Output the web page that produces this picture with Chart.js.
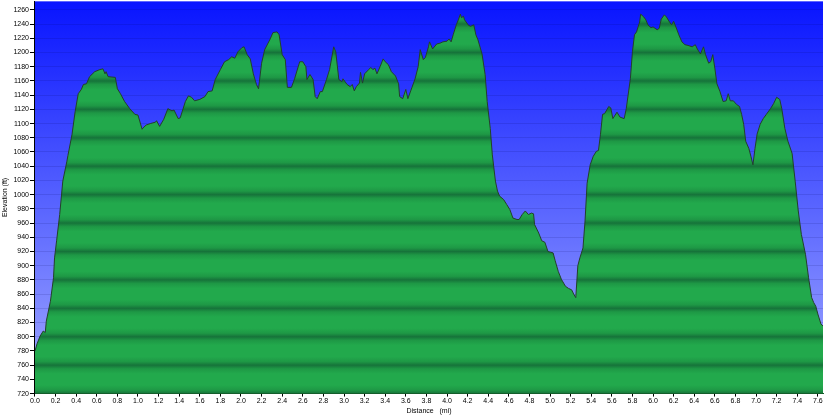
<!DOCTYPE html>
<html>
<head>
<meta charset="utf-8">
<script src="https://cdn.jsdelivr.net/npm/chart.js@4/dist/chart.umd.min.js"></script>
<style>
  html, body { margin: 0; padding: 0; background: #fff; }
  #wrap { width: 825px; height: 415px; }
</style>
</head>
<body>
<div id="wrap"><canvas id="profile"></canvas></div>
<script>
// distance along the track (mi)
const distance = [
  0.00, 0.02, 0.05, 0.08, 0.10, 0.11, 0.15, 0.18, 0.19, 0.21, 0.24, 0.27, 0.31, 0.32, 0.36, 0.39,
  0.42, 0.45, 0.47, 0.50, 0.53, 0.58, 0.63, 0.66, 0.68, 0.69, 0.71, 0.78, 0.80, 0.83, 0.87, 0.92,
  0.97, 1.00, 1.04, 1.05, 1.08, 1.12, 1.17, 1.18, 1.21, 1.25, 1.29, 1.33, 1.35, 1.39, 1.41, 1.46,
  1.49, 1.52, 1.55, 1.60, 1.65, 1.68, 1.72, 1.75, 1.80, 1.84, 1.88, 1.91, 1.94, 1.97, 2.01, 2.03,
  2.06, 2.09, 2.12, 2.15, 2.17, 2.20, 2.23, 2.28, 2.31, 2.35, 2.37, 2.40, 2.43, 2.45, 2.49, 2.52,
  2.57, 2.60, 2.63, 2.64, 2.67, 2.70, 2.72, 2.74, 2.77, 2.79, 2.83, 2.86, 2.90, 2.92, 2.95, 2.98,
  2.99, 3.03, 3.06, 3.08, 3.10, 3.12, 3.15, 3.16, 3.18, 3.20, 3.24, 3.26, 3.28, 3.30, 3.32, 3.35,
  3.38, 3.40, 3.43, 3.46, 3.50, 3.53, 3.54, 3.57, 3.60, 3.62, 3.66, 3.69, 3.72, 3.74, 3.77, 3.79,
  3.82, 3.83, 3.86, 3.90, 3.93, 3.96, 4.00, 4.02, 4.04, 4.06, 4.09, 4.11, 4.13, 4.14, 4.16, 4.17,
  4.21, 4.23, 4.26, 4.28, 4.30, 4.34, 4.37, 4.39, 4.42, 4.44, 4.47, 4.49, 4.51, 4.55, 4.58, 4.61,
  4.64, 4.68, 4.70, 4.73, 4.76, 4.79, 4.82, 4.84, 4.85, 4.89, 4.92, 4.95, 4.98, 5.03, 5.05, 5.08,
  5.11, 5.15, 5.18, 5.21, 5.23, 5.25, 5.27, 5.29, 5.32, 5.34, 5.36, 5.39, 5.42, 5.45, 5.47, 5.49,
  5.51, 5.53, 5.57, 5.59, 5.61, 5.65, 5.68, 5.72, 5.74, 5.78, 5.80, 5.82, 5.84, 5.87, 5.88, 5.91,
  5.93, 5.95, 5.98, 6.00, 6.04, 6.06, 6.08, 6.11, 6.13, 6.16, 6.18, 6.20, 6.23, 6.25, 6.28, 6.31,
  6.34, 6.38, 6.41, 6.43, 6.46, 6.49, 6.51, 6.54, 6.56, 6.58, 6.60, 6.62, 6.65, 6.68, 6.71, 6.73,
  6.75, 6.78, 6.81, 6.84, 6.86, 6.88, 6.90, 6.93, 6.95, 6.97, 6.99, 7.01, 7.04, 7.07, 7.10, 7.14,
  7.17, 7.20, 7.23, 7.25, 7.28, 7.31, 7.35, 7.38, 7.41, 7.44, 7.48, 7.51, 7.54, 7.56, 7.58, 7.60,
  7.63, 7.65
];

// elevation (ft)
const elevation = [
  780, 790, 801, 808, 806, 822, 850, 883, 911, 935, 972, 1019, 1047, 1055, 1085, 1117,
  1142, 1148, 1155, 1156, 1166, 1173, 1176, 1177, 1170, 1173, 1166, 1165, 1149, 1142, 1131, 1121,
  1113, 1112, 1092, 1094, 1098, 1100, 1102, 1104, 1096, 1106, 1121, 1118, 1119, 1107, 1108, 1131,
  1139, 1137, 1132, 1134, 1138, 1145, 1146, 1162, 1176, 1187, 1190, 1194, 1192, 1201, 1207, 1208,
  1197, 1191, 1170, 1155, 1149, 1185, 1204, 1218, 1228, 1229, 1225, 1197, 1190, 1151, 1151, 1163,
  1187, 1187, 1180, 1162, 1169, 1162, 1138, 1135, 1145, 1145, 1162, 1176, 1208, 1201, 1162, 1159,
  1163, 1155, 1152, 1155, 1146, 1152, 1157, 1172, 1157, 1170, 1176, 1179, 1176, 1178, 1170, 1180,
  1191, 1187, 1183, 1173, 1167, 1156, 1138, 1135, 1148, 1135, 1151, 1163, 1180, 1204, 1190, 1193,
  1208, 1215, 1205, 1212, 1213, 1215, 1216, 1219, 1215, 1225, 1239, 1246, 1254, 1249, 1251, 1246,
  1238, 1237, 1239, 1225, 1218, 1198, 1169, 1131, 1093, 1056, 1019, 1005, 998, 993, 986, 979,
  967, 965, 965, 972, 977, 972, 974, 973, 958, 946, 935, 933, 920, 918, 907, 892,
  881, 871, 868, 866, 860, 855, 900, 911, 925, 963, 1016, 1042, 1054, 1061, 1062, 1085,
  1113, 1114, 1124, 1122, 1107, 1116, 1109, 1107, 1121, 1163, 1201, 1225, 1229, 1243, 1254, 1250,
  1246, 1239, 1235, 1236, 1232, 1234, 1247, 1253, 1250, 1243, 1239, 1244, 1233, 1225, 1215, 1211,
  1210, 1208, 1211, 1205, 1198, 1208, 1197, 1185, 1187, 1197, 1178, 1156, 1145, 1131, 1132, 1142,
  1132, 1132, 1127, 1124, 1113, 1099, 1075, 1065, 1054, 1042, 1065, 1085, 1099, 1107, 1113, 1121,
  1128, 1137, 1134, 1121, 1093, 1075, 1058, 1019, 977, 944, 916, 883, 855, 848, 843, 832,
  818, 815
];

const xTicks = [0, 0.2, 0.4, 0.6, 0.8, 1.0, 1.2, 1.4, 1.6, 1.8, 2.0, 2.2, 2.4, 2.6, 2.8, 3.0, 3.2, 3.4,
  3.6, 3.8, 4.0, 4.2, 4.4, 4.6, 4.8, 5.0, 5.2, 5.4, 5.6, 5.8, 6.0, 6.2, 6.4, 6.6, 6.8, 7.0, 7.2, 7.4, 7.6];
const yTicks = [720, 740, 760, 780, 800, 820, 840, 860, 880, 900, 920, 940, 960, 980, 1000, 1020,
  1040, 1060, 1080, 1100, 1120, 1140, 1160, 1180, 1200, 1220, 1240, 1260];

const fontFamily = "'Liberation Sans', Arial, sans-serif";

// blue sky gradient behind the plot area
const skyPlugin = {
  id: 'sky',
  beforeDraw(chart) {
    const { ctx, chartArea: a } = chart;
    const g = ctx.createLinearGradient(0, a.top, 0, a.bottom);
    g.addColorStop(0, '#0814ff');
    g.addColorStop(0.5, '#5561ff');
    g.addColorStop(1, '#a3abff');
    ctx.save();
    ctx.fillStyle = g;
    ctx.fillRect(a.left, a.top, a.right - a.left, a.bottom - a.top);
    ctx.restore();
  }
};

// striped green fill, one dark band per 40 ft
function stripedGreen(context) {
  const chart = context.chart;
  const { ctx, chartArea, scales } = chart;
  if (!chartArea) return '#20a34a';
  const y = scales.y;
  const h = chartArea.bottom - chartArea.top;
  const g = ctx.createLinearGradient(0, chartArea.top, 0, chartArea.bottom);
  const stop = (v, c) => {
    const p = (y.getPixelForValue(v) - chartArea.top) / h;
    if (p >= 0 && p <= 1) g.addColorStop(p, c);
  };
  for (let v = y.min - 40; v <= y.max + 40; v += 40) {
    stop(v, '#16733a');
    stop(v + 5, '#1e9845');
    stop(v + 12, '#22a94c');
    stop(v + 28, '#22a94c');
    stop(v + 35, '#1e9845');
  }
  return g;
}

new Chart(document.getElementById('profile'), {
  type: 'line',
  data: {
    datasets: [{
      data: distance.map((d, i) => ({ x: d, y: elevation[i] })),
      borderColor: '#24412a',
      borderWidth: 1,
      backgroundColor: stripedGreen,
      fill: 'start',
      pointRadius: 0,
      tension: 0
    }]
  },
  options: {
    responsive: true,
    maintainAspectRatio: false,
    animation: false,
    layout: { padding: { top: 0, right: 2, left: 1, bottom: 0 } },
    plugins: { legend: { display: false }, tooltip: { enabled: false } },
    scales: {
      x: {
        type: 'linear',
        min: 0,
        max: 7.65,
        afterBuildTicks: s => { s.ticks = xTicks.map(v => ({ value: v })); },
        ticks: {
          color: '#000',
          font: { family: fontFamily, size: 7, lineHeight: 1.0 },
          padding: 1,
          maxRotation: 0,
          autoSkip: false,
          callback: v => v.toFixed(1)
        },
        grid: { drawOnChartArea: false, tickLength: 3, tickColor: '#000' },
        border: { color: '#145a28', width: 1 },
        title: {
          display: true,
          text: 'Distance   (mi)',
          color: '#000',
          font: { family: fontFamily, size: 7 },
          padding: { top: 1, bottom: 0 }
        }
      },
      y: {
        min: 720,
        max: 1272,
        afterBuildTicks: s => { s.ticks = yTicks.map(v => ({ value: v })); },
        ticks: {
          color: '#000',
          font: { family: fontFamily, size: 7, lineHeight: 0.1 },
          padding: 1,
          callback: v => String(v)
        },
        grid: { color: 'rgba(0,0,80,0.12)', tickLength: 5, tickColor: '#000' },
        border: { color: '#000', width: 1 },
        title: {
          display: true,
          text: 'Elevation (ft)',
          color: '#000',
          font: { family: fontFamily, size: 7 },
          padding: { top: 0, bottom: 3 }
        }
      }
    }
  },
  plugins: [skyPlugin]
});
</script>
</body>
</html>
